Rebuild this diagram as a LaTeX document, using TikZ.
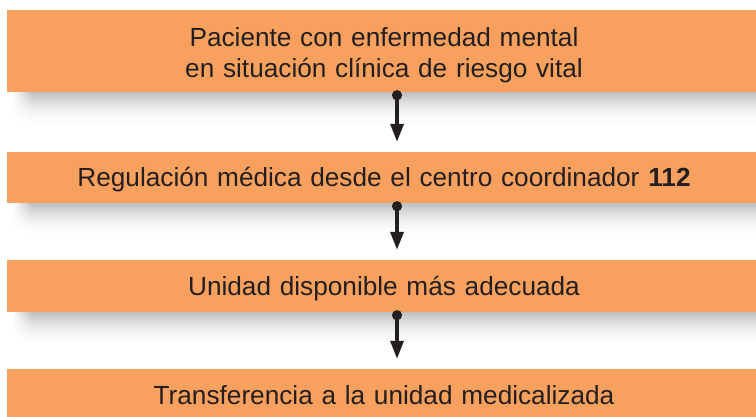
\documentclass[tikz,border=0pt]{standalone}
\usepackage{fontspec}
\setmainfont{Liberation Sans}
\usetikzlibrary{arrows.meta,positioning}
\definecolor{boxorange}{RGB}{248,161,94}
\definecolor{textgray}{RGB}{35,31,32}
\definecolor{shadowgray}{RGB}{189,190,192}
\tikzset{
  stepbox/.style={fill=boxorange, minimum width=754pt, text width=740pt,
    align=center, inner sep=0pt, text=textgray,
    text height=19pt, text depth=0pt,
    font=\fontsize{26.2}{31}\selectfont},
  flowarrow/.style={draw=textgray, line width=3.4pt,
    {Circle[length=10pt]}-{Triangle[length=18pt,width=13pt]},
    shorten <=-2pt, shorten >=10pt}
}
% sombra difuminada bajo cada caja
\newcommand{\boxshadow}[1]{%
  \begin{scope}[shift={(#1.south west)}]
  \foreach \i in {0,...,34}{
    \pgfmathsetmacro{\t}{100*(1-\i/35)^2}
    \shade[left color=white, right color=shadowgray!\t!white]
      (5,\i) rectangle (25,\i+1.3);
    \fill[shadowgray!\t!white] (25,\i) rectangle (760,\i+1.3);
  }
  \end{scope}}
\begin{document}
\begin{tikzpicture}[x=1pt,y=-1pt]
\useasboundingbox (0,0) rectangle (756,417);
% pasos del protocolo
\node[stepbox, minimum height=82pt, text depth=27pt] (paciente) at (384,51)
  {Paciente con enfermedad mental\\en situación clínica de riesgo vital};
\node[stepbox, minimum height=51pt] (regulacion) at (384,177.5)
  {Regulación médica desde el centro coordinador \textbf{112}};
\node[stepbox, minimum height=52pt] (unidad) at (384,286)
  {Unidad disponible más adecuada};
\node[stepbox, minimum height=52pt] (transferencia) at (384,395)
  {Transferencia a la unidad medicalizada};
\boxshadow{paciente}
\boxshadow{regulacion}
\boxshadow{unidad}
% flechas
\draw[flowarrow] ([xshift=13pt]paciente.south) -- ([xshift=13pt]regulacion.north);
\draw[flowarrow] ([xshift=13pt]regulacion.south) -- ([xshift=13pt]unidad.north);
\draw[flowarrow] ([xshift=13pt]unidad.south) -- ([xshift=13pt]transferencia.north);
\end{tikzpicture}
\end{document}
